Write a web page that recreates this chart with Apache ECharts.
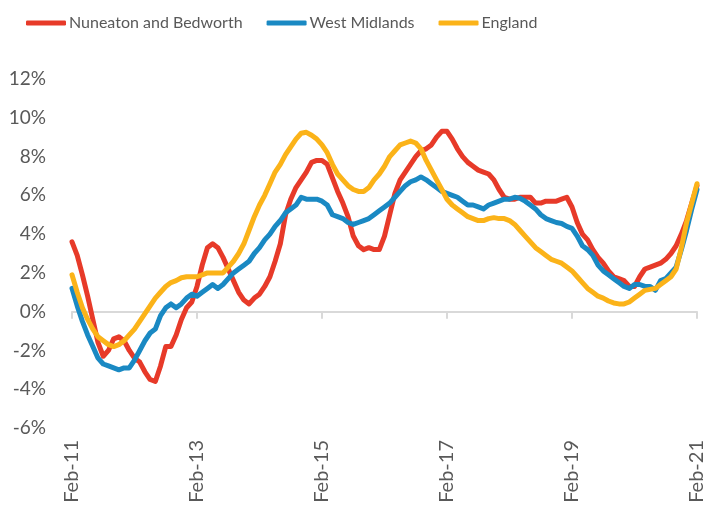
<!DOCTYPE html>
<html>
<head>
<meta charset="utf-8">
<script src="https://cdn.jsdelivr.net/npm/echarts@6/dist/echarts.min.js"></script>
<style>
  html, body { margin: 0; padding: 0; background: #fff; }
  #chart { width: 709px; height: 513px; }
</style>
</head>
<body>
<div id="chart"></div>
<script>
// monthly, Feb-11 .. Feb-21
var months = ['Jan','Feb','Mar','Apr','May','Jun','Jul','Aug','Sep','Oct','Nov','Dec'];
var categories = [];
for (var k = 0; k <= 120; k++) {
    var m = (1 + k) % 12;
    var yr = 11 + Math.floor((1 + k) / 12);
    categories.push(months[m] + '-' + yr);
}

var yTicks = [-6, -4, -2, 0, 2, 4, 6, 8, 10, 12];

var nuneaton = [
    3.6, 2.9, 1.9, 0.8, -0.4, -1.6, -2.3, -2.0, -1.4, -1.3, -1.5, -2.0,
    -2.4, -2.6, -3.1, -3.5, -3.6, -2.8, -1.8, -1.8, -1.2, -0.4, 0.2, 0.5,
    1.3, 2.4, 3.3, 3.5, 3.3, 2.8, 2.2, 1.6, 1.0, 0.6, 0.4, 0.7,
    0.9, 1.3, 1.8, 2.6, 3.5, 5.0, 5.8, 6.4, 6.8, 7.2, 7.7, 7.8,
    7.8, 7.6, 6.9, 6.2, 5.6, 4.9, 3.9, 3.4, 3.2, 3.3, 3.2, 3.2,
    3.9, 5.0, 6.1, 6.8, 7.2, 7.6, 8.0, 8.3, 8.4, 8.6, 9.0, 9.3,
    9.3, 8.9, 8.4, 8.0, 7.7, 7.5, 7.3, 7.2, 7.1, 6.8, 6.3, 5.9,
    5.8, 5.8, 5.9, 5.9, 5.9, 5.6, 5.6, 5.7, 5.7, 5.7, 5.8, 5.9,
    5.4, 4.6, 4.0, 3.7, 3.2, 2.8, 2.5, 2.1, 1.8, 1.7, 1.6, 1.3,
    1.3, 1.8, 2.2, 2.3, 2.4, 2.5, 2.7, 3.0, 3.4, 4.0, 4.7, 5.6,
    6.5
];

var westMidlands = [
    1.2, 0.3, -0.5, -1.2, -1.8, -2.4, -2.7, -2.8, -2.9, -3.0, -2.9, -2.9,
    -2.5, -2.0, -1.5, -1.1, -0.9, -0.2, 0.2, 0.4, 0.2, 0.4, 0.7, 0.9,
    0.8, 1.0, 1.2, 1.4, 1.2, 1.4, 1.7, 2.0, 2.2, 2.4, 2.6, 3.0,
    3.3, 3.7, 4.0, 4.4, 4.7, 5.1, 5.3, 5.5, 5.9, 5.8, 5.8, 5.8,
    5.7, 5.5, 5.0, 4.9, 4.8, 4.6, 4.5, 4.6, 4.7, 4.8, 5.0, 5.2,
    5.4, 5.6, 5.9, 6.2, 6.5, 6.7, 6.8, 6.95, 6.8, 6.6, 6.4, 6.2,
    6.1, 6.0, 5.9, 5.7, 5.5, 5.5, 5.4, 5.3, 5.5, 5.6, 5.7, 5.8,
    5.8, 5.9, 5.85, 5.7, 5.5, 5.3, 5.0, 4.8, 4.7, 4.6, 4.55, 4.4,
    4.3, 3.9, 3.4, 3.2, 2.9, 2.4, 2.1, 1.9, 1.7, 1.5, 1.3, 1.2,
    1.4, 1.4, 1.3, 1.3, 1.1, 1.6, 1.7, 2.0, 2.3, 3.2, 4.2, 5.3,
    6.3
];

var england = [
    1.9, 1.0, 0.2, -0.4, -0.9, -1.3, -1.5, -1.7, -1.8, -1.7, -1.5, -1.2,
    -0.9, -0.5, -0.1, 0.3, 0.7, 1.0, 1.3, 1.5, 1.6, 1.75, 1.8, 1.8,
    1.8, 1.9, 2.0, 2.0, 2.0, 2.0, 2.3, 2.6, 3.0, 3.5, 4.2, 4.9,
    5.5, 6.0, 6.6, 7.2, 7.6, 8.1, 8.5, 8.9, 9.2, 9.25, 9.1, 8.9,
    8.6, 8.2, 7.6, 7.1, 6.8, 6.5, 6.3, 6.2, 6.2, 6.4, 6.8, 7.1,
    7.5, 8.0, 8.3, 8.6, 8.7, 8.8, 8.7, 8.4, 7.8, 7.3, 6.8, 6.3,
    5.8, 5.5, 5.3, 5.1, 4.9, 4.8, 4.7, 4.7, 4.8, 4.85, 4.8, 4.8,
    4.7, 4.5, 4.2, 3.9, 3.6, 3.3, 3.1, 2.9, 2.7, 2.6, 2.5, 2.3,
    2.1, 1.8, 1.5, 1.2, 1.0, 0.8, 0.7, 0.55, 0.45, 0.4, 0.4, 0.5,
    0.7, 0.9, 1.1, 1.15, 1.2, 1.4, 1.6, 1.8, 2.2, 3.3, 4.6, 5.6,
    6.6
];

var textColor = '#595959';
var fontFamily = 'Lato, "Open Sans", sans-serif';

var myChart = echarts.init(document.getElementById('chart'));

function lineSeries(name, color, data) {
    return {
        name: name,
        type: 'line',
        xAxisIndex: 0,
        showSymbol: false,
        symbol: 'none',
        lineStyle: { width: 5, color: color, cap: 'round', join: 'round' },
        itemStyle: { color: color },
        data: data
    };
}

var option = {
    animation: false,
    textStyle: { fontFamily: fontFamily },
    legend: {
        top: 10,
        left: 21,
        itemWidth: 40,
        itemHeight: 5,
        itemGap: 24,
        icon: 'roundRect',
        textStyle: { color: textColor, fontSize: 16, fontFamily: fontFamily, padding: [0, 0, 0, -2] },
        data: ['Nuneaton and Bedworth', 'West Midlands', 'England']
    },
    grid: { left: 72, right: 12, top: 79, bottom: 85, containLabel: false },
    xAxis: [
        {
            type: 'category',
            data: categories,
            boundaryGap: false,
            position: 'bottom',
            axisLine: { show: false, onZero: false },
            axisTick: { show: false },
            axisLabel: {
                interval: 23,
                rotate: 90,
                margin: 12,
                color: textColor,
                fontSize: 20,
                fontFamily: fontFamily
            },
            splitLine: { show: false }
        },
        {
            type: 'category',
            data: categories,
            boundaryGap: false,
            position: 'top',
            axisLine: { show: true, onZero: true, lineStyle: { color: '#d9d9d9', width: 2 } },
            axisTick: { show: true, inside: true, interval: 23, length: 7, lineStyle: { color: '#d9d9d9', width: 2 } },
            axisLabel: { show: false },
            splitLine: { show: false }
        }
    ],
    yAxis: {
        type: 'value',
        min: yTicks[0],
        max: yTicks[yTicks.length - 1],
        interval: 2,
        axisLine: { show: false },
        axisTick: { show: false },
        splitLine: { show: false },
        axisLabel: {
            margin: 26,
            color: textColor,
            fontSize: 19,
            fontFamily: fontFamily,
            formatter: '{value}%'
        }
    },
    series: [
        lineSeries('Nuneaton and Bedworth', '#E73A29', nuneaton),
        lineSeries('West Midlands', '#1A89C3', westMidlands),
        lineSeries('England', '#FBB319', england)
    ]
};

myChart.setOption(option);
</script>
</body>
</html>
